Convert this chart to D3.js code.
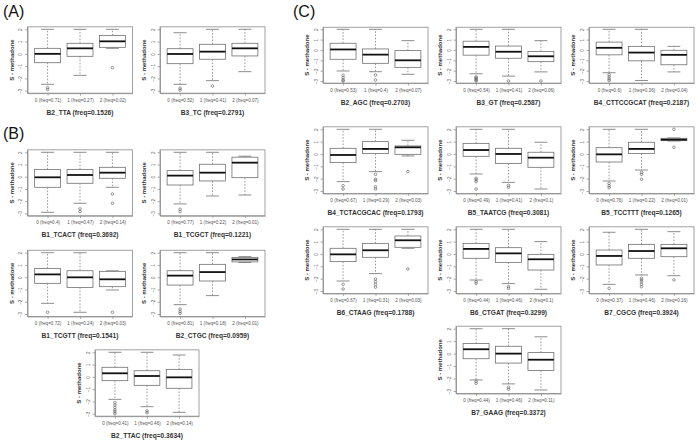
<!DOCTYPE html>
<html><head><meta charset="utf-8">
<script src="https://cdn.jsdelivr.net/npm/d3@7"></script>
<style>body{margin:0;background:#fff}svg{display:block}text{font-family:"Liberation Sans",Arial,sans-serif}</style>
</head><body><svg id="c" width="696" height="440"></svg>
<script>
// ---------- data ----------
const panelLetters = ["(A)", "(B)", "(C)"];
const yTicks = [-3, -2, -1, 0, 1, 2];
const yLabel = "S - methadone";
const titles = [
  "B2_TTA (freq=0.1526)", "B3_TC (freq=0.2791)",
  "B1_TCACT (freq=0.3692)", "B1_TCGCT (freq=0.1221)",
  "B1_TCGTT (freq=0.1541)", "B2_CTGC (freq=0.0959)",
  "B2_TTAC (freq=0.3634)",
  "B2_AGC (freq=0.2703)", "B3_GT (freq=0.2587)", "B4_CTTCCGCAT (freq=0.2187)",
  "B4_TCTACGCAC (freq=0.1793)", "B5_TAATCG (freq=0.3081)", "B5_TCCTTT (freq=0.1265)",
  "B6_CTAAG (freq=0.1788)", "B6_CTGAT (freq=0.3299)", "B7_CGCG (freq=0.3924)",
  "B7_GAAG (freq=0.3372)"
];
const groupLabels = [
  ["0 (freq=0.71)", "1 (freq=0.27)", "2 (freq=0.02)"],
  ["0 (freq=0.52)", "1 (freq=0.41)", "2 (freq=0.07)"],
  ["0 (freq=0.4)", "1 (freq=0.47)", "2 (freq=0.14)"],
  ["0 (freq=0.77)", "1 (freq=0.22)", "2 (freq=0.01)"],
  ["0 (freq=0.72)", "1 (freq=0.24)", "2 (freq=0.03)"],
  ["0 (freq=0.81)", "1 (freq=0.18)", "2 (freq=0.01)"],
  ["0 (freq=0.41)", "1 (freq=0.46)", "2 (freq=0.14)"],
  ["0 (freq=0.53)", "1 (freq=0.4)", "2 (freq=0.07)"],
  ["0 (freq=0.54)", "1 (freq=0.41)", "2 (freq=0.06)"],
  ["0 (freq=0.6)", "1 (freq=0.36)", "2 (freq=0.04)"],
  ["0 (freq=0.67)", "1 (freq=0.29)", "2 (freq=0.03)"],
  ["0 (freq=0.49)", "1 (freq=0.41)", "2 (freq=0.1)"],
  ["0 (freq=0.76)", "1 (freq=0.22)", "2 (freq=0.01)"],
  ["0 (freq=0.67)", "1 (freq=0.31)", "2 (freq=0.03)"],
  ["0 (freq=0.44)", "1 (freq=0.46)", "2 (freq=0.1)"],
  ["0 (freq=0.37)", "1 (freq=0.46)", "2 (freq=0.16)"],
  ["0 (freq=0.44)", "1 (freq=0.46)", "2 (freq=0.11)"]
];
const whiskerLow = [
  [-2.48, -1.75, 0.45], [-2.48, -2.18, -1.45],
  [-2.92, -2.18, -0.87], [-2.23, -1.58, -1.5],
  [-2.13, -2.86, -1.04], [-2.24, -1.5, 1.2],
  [-1.83, -2.43, -2.89],
  [-2.03, -2.1, -2.35], [-2.3, -2.53, -2.12], [-2.2, -2.95, -2.12],
  [-2.24, -1.43, -0.16], [-1.62, -2.3, -2.84], [-2.19, -1.3, 1.05],
  [-2.19, -1.59, 0.46], [-2.11, -2.4, -2.86], [-2.46, -1.7, -1.76],
  [-2.11, -2.43, -2.92]
];
const q1 = [
  [-0.72, -0.2, 0.53], [-0.8, -0.44, -0.17],
  [-0.87, -0.54, -0.13], [-0.68, -0.35, -0.08],
  [-0.5, -0.83, -0.77], [-0.64, -0.31, 1.25],
  [-0.31, -0.69, -0.93],
  [-0.9, -1.29, -1.68], [-0.5, -0.8, -1.13], [-0.47, -1.05, -1.43],
  [-0.7, 0.03, -0.03], [-0.19, -0.76, -1.08], [-0.65, 0.03, 1.08],
  [-0.62, -0.27, 0.54], [-0.35, -0.68, -1.3], [-0.89, -0.35, -0.22],
  [-0.41, -0.76, -1.35]
];
const median = [
  [0, 0.45, 1.02], [-0.01, 0.18, 0.45],
  [-0.05, 0.14, 0.33], [0.09, 0.33, 1.15],
  [0.23, -0.01, -0.17], [0.13, 0.42, 1.45],
  [0.29, 0.07, -0.04],
  [0.05, -0.45, -1.0], [0.3, -0.17, -0.61], [0.21, -0.25, -0.47],
  [-0.08, 0.41, 0.54], [0.32, 0.0, -0.3], [-0.03, 0.41, 1.16],
  [-0.03, 0.3, 1.11], [0.41, 0.05, -0.43], [-0.16, 0.24, 0.46],
  [0.35, 0.0, -0.49]
];
const q3 = [
  [0.45, 0.86, 1.5], [0.42, 0.78, 0.86],
  [0.6, 0.6, 0.77], [0.5, 1.02, 1.6],
  [0.72, 0.53, 0.48], [0.53, 1.05, 1.62],
  [0.78, 0.5, 0.61],
  [0.65, 0.1, -0.06], [0.85, 0.38, -0.14], [0.76, 0.35, -0.03],
  [0.46, 1.0, 0.65], [0.86, 0.46, 0.14], [0.51, 0.95, 1.27],
  [0.46, 0.86, 1.46], [0.86, 0.51, -0.03], [0.32, 0.78, 0.78],
  [0.81, 0.59, 0.08]
];
const whiskerHigh = [
  [2, 2, 2], [1.72, 2, 2],
  [2, 2, 2], [2, 2, 1.68],
  [2, 2, 0.52], [2, 2, 1.68],
  [2, 2, 1.78],
  [2, 2, 0.9], [2, 2, 0.9], [2, 2, 0.35],
  [2, 2, 1.11], [2, 2, 0.95], [2, 2, 1.3],
  [2, 2, 2], [2, 2, 1.0], [1.76, 2, 1.81],
  [2, 2, 1.35]
];
const outliers = [
  [[-2.75, -2.9], [], [-1.12]], [[-2.8, -2.95], [-2.62], []],
  [[], [-2.64, -2.86], [-1.42, -2.18]], [[-2.67, -2.86], [], []],
  [[-2.86], [], [-2.86]], [[-2.6, -2.8, -2.95], [], []],
  [[-2.1, -2.3, -2.5, -2.7, -2.85, -3.0], [-2.78, -2.92], []],
  [[-2.45, -2.68, -2.9, -3.0], [-2.42, -2.9], []],
  [[-2.6, -2.7, -2.8, -2.9, -3.0], [-3.0], [-3.0]],
  [[-2.4, -2.6, -2.8, -2.95], [], []],
  [[-2.57, -2.84], [-1.65, -2.05, -2.16, -2.65, -2.84], [-1.43]],
  [[-1.97, -2.1, -2.24, -2.84], [-2.55, -2.7], []],
  [[-2.38, -2.57, -2.73], [-1.49, -1.65, -2.05], [2.0, 0.54]],
  [[-2.46, -2.84], [-2.03, -2.24, -2.46, -2.68], [-1.22]],
  [[-2.24, -2.38], [-2.65, -2.78], []],
  [[-2.78], [-1.97, -2.1, -2.24, -2.46, -2.65], [-2.1]],
  [[-2.22, -2.38], [-2.7, -2.86], []]
];

// ---------- layout (pixel placement of each panel) ----------
const layout = [
  {x0: 27.5, yTop: 29.3, yBot: 90.7, w: 105}, {x0: 160, yTop: 29.3, yBot: 90.7, w: 105},
  {x0: 27.5, yTop: 152.3, yBot: 213.3, w: 105}, {x0: 160, yTop: 152.3, yBot: 213.3, w: 105},
  {x0: 27.5, yTop: 252.7, yBot: 314, w: 105}, {x0: 160, yTop: 252.7, yBot: 314, w: 105},
  {x0: 95, yTop: 352.3, yBot: 413.7, w: 104},
  {x0: 323, yTop: 29.3, yBot: 81, w: 105}, {x0: 456, yTop: 29.3, yBot: 81, w: 105}, {x0: 589, yTop: 29.3, yBot: 81, w: 105},
  {x0: 323, yTop: 129.3, yBot: 191, w: 105}, {x0: 456, yTop: 129.3, yBot: 191, w: 105}, {x0: 589, yTop: 129.3, yBot: 191, w: 105},
  {x0: 323, yTop: 229.3, yBot: 291, w: 105}, {x0: 456, yTop: 229.3, yBot: 291, w: 105}, {x0: 589, yTop: 229.3, yBot: 291, w: 105},
  {x0: 456, yTop: 328.7, yBot: 391, w: 105}
];
const letterPos = [{x: 3, y: 17}, {x: 3, y: 139}, {x: 293, y: 17}];

const svg = d3.select("#c");
const lineCol = "#707070", frameCol = "#8a8a8a", textCol = "#555";

panelLetters.forEach((t, i) => {
  svg.append("text").attr("x", letterPos[i].x).attr("y", letterPos[i].y)
    .attr("font-size", 16).attr("fill", "#111").text(t);
});

titles.forEach((title, i) => {
  const L = layout[i];
  const ppu = (L.yBot - L.yTop) / 5;
  const fTop = L.yTop - 0.2 * ppu, fBot = L.yBot + 0.2 * ppu;
  const y = d3.scaleLinear().domain([-3.2, 2.2]).range([fBot, fTop]);
  const x = d3.scaleLinear().domain([0.38, 3.62]).range([L.x0, L.x0 + L.w]);
  const u = x(1) - x(0);
  const half = 0.4 * u, cap = 0.2 * u;
  const g = svg.append("g");

  // frame
  g.append("rect").attr("x", L.x0).attr("y", fTop).attr("width", L.w).attr("height", fBot - fTop)
    .attr("fill", "none").attr("stroke", frameCol).attr("stroke-width", 0.8);

  // axes
  const ya = g.append("g").attr("transform", `translate(${L.x0},0)`)
    .call(d3.axisLeft(y).tickValues(yTicks).tickSize(2.5).tickSizeOuter(0).tickFormat(d3.format("d")));
  ya.select(".domain").attr("stroke", frameCol).attr("stroke-width", 0.8);
  ya.selectAll("line").attr("stroke", frameCol).attr("stroke-width", 0.7);
  ya.selectAll("text").attr("x", null).attr("dy", null).attr("font-size", 4.6).attr("fill", textCol)
    .attr("font-family", "Liberation Sans, Arial, sans-serif")
    .attr("text-anchor", "middle").attr("transform", "translate(-5.5,0) rotate(-90)");

  const xa = g.append("g").attr("transform", `translate(0,${fBot})`)
    .call(d3.axisBottom(x).tickValues([1, 2, 3]).tickSize(2.5).tickSizeOuter(0)
      .tickFormat((d) => groupLabels[i][d - 1]));
  xa.select(".domain").attr("stroke", frameCol).attr("stroke-width", 0.8);
  xa.selectAll("line").attr("stroke", frameCol).attr("stroke-width", 0.7);
  xa.selectAll("text").attr("y", 5.2).attr("font-size", 4.6).attr("fill", textCol)
    .attr("font-family", "Liberation Sans, Arial, sans-serif");

  // y label
  g.append("text").attr("transform", `translate(${L.x0 - 14},${(fTop + fBot) / 2}) rotate(-90)`)
    .attr("text-anchor", "middle").attr("font-size", 6).attr("font-weight", "bold").attr("fill", "#333")
    .text(yLabel);

  // title
  g.append("text").attr("x", L.x0 + L.w / 2).attr("y", fBot + 21.5)
    .attr("text-anchor", "middle").attr("font-size", 6.6).attr("font-weight", "bold").attr("fill", "#333")
    .text(title);

  // boxes
  [0, 1, 2].forEach((k) => {
    const cx = x(k + 1);
    const lo = whiskerLow[i][k], a = q1[i][k], m = median[i][k], b = q3[i][k], hi = whiskerHigh[i][k];
    // whiskers (dashed)
    g.append("line").attr("x1", cx).attr("x2", cx).attr("y1", y(b)).attr("y2", y(hi))
      .attr("stroke", lineCol).attr("stroke-width", 0.7).attr("stroke-dasharray", "1.6,1.6");
    g.append("line").attr("x1", cx).attr("x2", cx).attr("y1", y(a)).attr("y2", y(lo))
      .attr("stroke", lineCol).attr("stroke-width", 0.7).attr("stroke-dasharray", "1.6,1.6");
    // caps
    [lo, hi].forEach((v) => {
      g.append("line").attr("x1", cx - cap).attr("x2", cx + cap).attr("y1", y(v)).attr("y2", y(v))
        .attr("stroke", lineCol).attr("stroke-width", 0.8);
    });
    // box
    g.append("rect").attr("x", cx - half).attr("y", y(b)).attr("width", 2 * half)
      .attr("height", Math.max(0.5, y(a) - y(b)))
      .attr("fill", "#fff").attr("stroke", lineCol).attr("stroke-width", 0.8);
    // median
    g.append("line").attr("x1", cx - half).attr("x2", cx + half).attr("y1", y(m)).attr("y2", y(m))
      .attr("stroke", "#111").attr("stroke-width", 1.8);
    // outliers
    outliers[i][k].forEach((v) => {
      g.append("circle").attr("cx", cx).attr("cy", y(v)).attr("r", 1.3)
        .attr("fill", "none").attr("stroke", "#555").attr("stroke-width", 0.6);
    });
  });
});
</script></body></html>
